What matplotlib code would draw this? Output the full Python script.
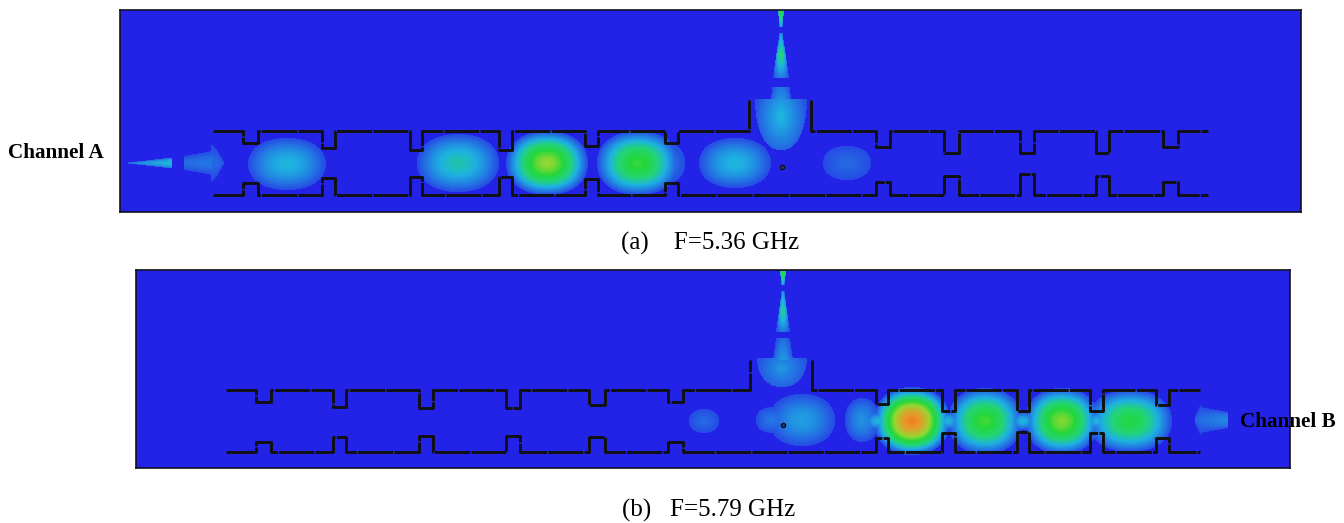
import numpy as np
import matplotlib
matplotlib.use("Agg")
import matplotlib.pyplot as plt
from matplotlib.colors import LinearSegmentedColormap

W, H = 1344, 523
plt.rcParams['font.family'] = ['Liberation Serif', 'DejaVu Serif']

# Panel rectangles (left, right, top, bottom) in picture pixels
panel_a = (120, 1301, 10, 212)
panel_b = (136, 1290, 270, 468)

# Field blobs: centre x, centre y, radius x, radius y, peak level
blobs_a = [(287, 164, 39, 26, 0.33), (458, 163, 41, 29, 0.38), (547, 163, 41, 32, 0.66),
           (638, 163, 41, 32, 0.57), (667, 163, 18, 20, 0.2), (735, 163, 36, 25, 0.33),
           (847, 163, 24, 17, 0.17)]
blobs_b = [(704, 421, 15, 12, 0.17), (802, 420, 33, 26, 0.28), (772, 420, 16, 13, 0.2),
           (862, 420, 17, 22, 0.25), (912, 421, 38, 34, 0.86), (985, 421, 37, 33, 0.58),
           (1062, 421, 37, 33, 0.64), (1130, 421, 42, 31, 0.53),
           (948, 421, 12, 9, 0.33), (1023, 421, 12, 9, 0.33), (1097, 421, 12, 9, 0.33),
           (878, 421, 14, 9, 0.33)]

# Half domes below the junction: centre x, flat top y, radius x, depth, peak level
domes_a = [(781, 99, 26, 51, 0.34)]
domes_b = [(782, 358, 25, 29, 0.27)]

# Tapers: orientation, start, end, centre, half width at start/end, level at start/end
tapers_a = [('h', 128, 172, 163, 0.5, 5.5, 0.22, 0.34), ('h', 184, 212, 163, 7, 12, 0.18, 0.2),
            ('h', 211, 217, 163, 19, 14, 0.17, 0.17), ('h', 217, 224, 163, 14, 1, 0.17, 0.14),
            ('v', 10, 27, 781, 3, 1.5, 0.62, 0.3), ('v', 33, 55, 781, 1.5, 4.8, 0.26, 0.46),
            ('v', 55, 78, 781, 4.8, 8, 0.46, 0.2), ('v', 87, 100, 781, 9, 10, 0.2, 0.26)]
tapers_b = [('h', 1195, 1201, 420, 4, 16, 0.16, 0.17), ('h', 1201, 1228, 420, 13, 8, 0.18, 0.24),
            ('v', 271, 285, 783, 3, 1.5, 0.62, 0.3), ('v', 291, 312, 783, 1.5, 4.2, 0.26, 0.42),
            ('v', 312, 332, 783, 4.2, 7, 0.42, 0.2), ('v', 338, 360, 783, 7, 10, 0.18, 0.27)]

# Walls: outer left/right x, top y, bottom y, junction x pair and junction y
walls_a = dict(x0=213, x1=1208, top=131, bot=195, j0=749, j1=811, jy=100)
walls_b = dict(x0=226, x1=1200, top=390, bot=452, j0=750, j1=812, jy=360)

# Notches: left x, right x, end y in top wall, end y in bottom wall
notches_a = [(243, 258, 143, 183), (322, 335, 148, 178), (410, 422, 150, 177), (499, 512, 150, 177),
             (585, 598, 146, 179), (665, 678, 143, 183), (876, 890, 147, 182), (944, 959, 153, 176),
             (1020, 1034, 153, 174), (1096, 1109, 153, 176), (1163, 1178, 147, 182)]
notches_b = [(256, 271, 402, 442), (333, 346, 407, 437), (419, 433, 408, 436), (506, 520, 408, 436),
             (589, 605, 405, 437), (668, 683, 402, 442), (876, 888, 404, 438), (942, 955, 411, 433),
             (1017, 1029, 411, 432), (1090, 1103, 411, 433), (1156, 1169, 405, 438)]
posts = [(782, 167), (783, 425)]

labels = ["Channel A", "Channel B"]
captions = ["(a)    F=5.36 GHz", "(b)   F=5.79 GHz"]

cmap = LinearSegmentedColormap.from_list("field", [
    (0.00, (35/255, 35/255, 232/255)), (0.14, (38/255, 90/255, 228/255)),
    (0.32, (30/255, 178/255, 225/255)), (0.44, (35/255, 212/255, 120/255)),
    (0.55, (35/255, 215/255, 60/255)), (0.66, (150/255, 215/255, 50/255)),
    (0.82, (235/255, 150/255, 40/255)), (1.00, (235/255, 60/255, 30/255))])


def build_field(rect, blobs, domes, tapers):
    l, r, t, b = rect
    X, Y = np.meshgrid(np.arange(l, r) + .5, np.arange(t, b) + .5)
    Z = np.zeros_like(X, dtype=float)
    for cx, cy, rx, ry, pk in blobs:
        d = (np.abs((X - cx) / rx) ** 2.2 + np.abs((Y - cy) / ry) ** 2.2) ** (1 / 2.2)
        v = np.where(d < 1, 0.1 + (pk - 0.1) * (1 - np.clip(d, 0, 1) ** 1.7), 0)
        Z = np.maximum(Z, v)
    for cx, top, rx, depth, pk in domes:
        outer = (np.abs(X - cx) / rx) ** 2.4 + ((Y - top) / depth) ** 2.0
        inner = np.sqrt(((X - cx) / rx) ** 2 + ((Y - top - 0.35 * depth) / (0.8 * depth)) ** 2)
        v = 0.12 + (pk - 0.12) * np.clip(1 - inner, 0, 1) ** 0.9
        Z = np.maximum(Z, np.where((outer < 1) & (Y >= top), v, 0))
    for o, s0, s1, c, w0, w1, v0, v1 in tapers:
        S, C = (X, Y) if o == 'h' else (Y, X)
        f = (S - s0) / (s1 - s0)
        w = w0 + (w1 - w0) * f
        inside = (f >= 0) & (f <= 1) & (np.abs(C - c) < w)
        v = v0 + (v1 - v0) * f
        v = v * (1 - 0.5 * (np.abs(C - c) / np.maximum(w, .1)) ** 2)
        Z = np.maximum(Z, np.where(inside, v, 0))
    return Z


def draw_panel(rect, blobs, domes, tapers, wall, notches, post):
    l, r, t, b = rect
    ax = fig.add_axes([l / W, 1 - b / H, (r - l) / W, (b - t) / H])
    ax.imshow(build_field(rect, blobs, domes, tapers), cmap=cmap, vmin=0, vmax=1,
              extent=(l, r, b, t), aspect='auto', interpolation='bilinear')
    xt, yt, xb, yb = [wall['x0']], [wall['top']], [wall['x0']], [wall['bot']]
    for n0, n1, ny_top, ny_bot in notches:
        if n0 > wall['j0'] and xt[-1] < wall['j0']:
            xt += [wall['j0'], wall['j0'], np.nan, wall['j1'], wall['j1']]
            yt += [wall['top'], wall['jy'], np.nan, wall['jy'], wall['top']]
        xt += [n0, n0, n1, n1]
        yt += [wall['top'], ny_top, ny_top, wall['top']]
        xb += [n0, n0, n1, n1]
        yb += [wall['bot'], ny_bot, ny_bot, wall['bot']]
    xt.append(wall['x1']); yt.append(wall['top'])
    xb.append(wall['x1']); yb.append(wall['bot'])
    for xs, ys in ((xt, yt), (xb, yb)):
        ax.plot(xs, ys, color='#111111', lw=2.1, ls=(0, (12, 0.45)), solid_joinstyle='miter')
    ax.plot(*post, 'o', ms=3, mfc='#2a3a80', mec='#111111', mew=1)
    ax.set_xlim(l, r)
    ax.set_ylim(b, t)
    ax.set_xticks([])
    ax.set_yticks([])
    for s in ax.spines.values():
        s.set_linewidth(1.2)
        s.set_color('#111122')
    return ax


fig = plt.figure(figsize=(W / 100, H / 100), dpi=100, facecolor='white')
draw_panel(panel_a, blobs_a, domes_a, tapers_a, walls_a, notches_a, posts[0])
draw_panel(panel_b, blobs_b, domes_b, tapers_b, walls_b, notches_b, posts[1])

fig.text(8 / W, 1 - 153 / H, labels[0], fontsize=15.2, fontweight='bold', va='center', ha='left', color='black')
fig.text(1240 / W, 1 - 422 / H, labels[1], fontsize=15.2, fontweight='bold', va='center', ha='left', color='black')
fig.text(710 / W, 1 - 243.5 / H, captions[0], fontsize=18, va='center', ha='center', color='black')
fig.text(709 / W, 1 - 510 / H, captions[1], fontsize=18, va='center', ha='center', color='black')

fig.savefig("out.png", dpi=100)
